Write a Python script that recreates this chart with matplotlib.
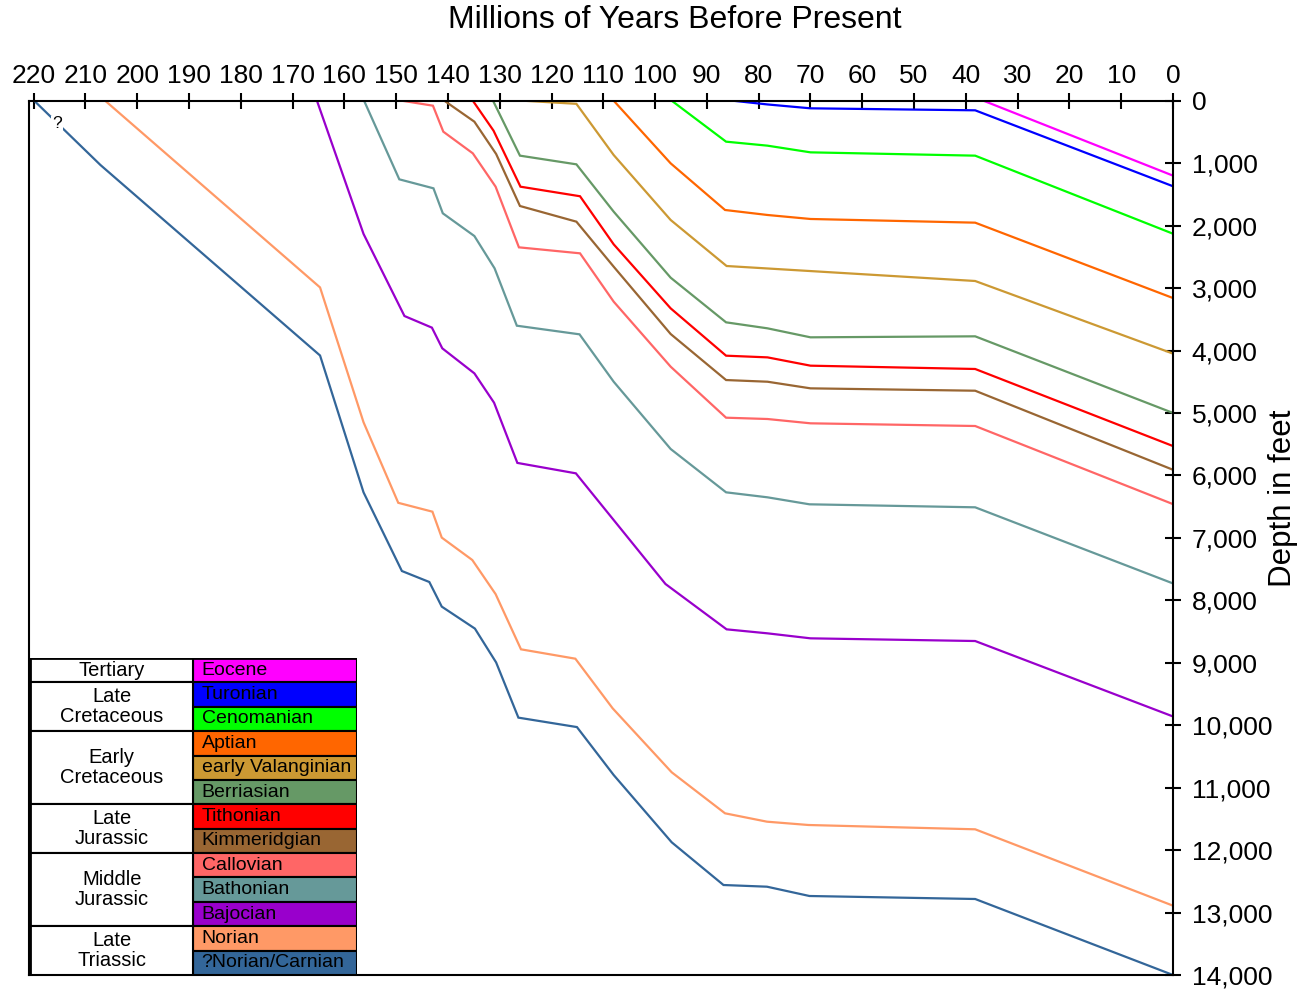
import matplotlib
matplotlib.use("Agg")
import matplotlib.pyplot as plt
from matplotlib.patches import Rectangle
from matplotlib.ticker import FuncFormatter

plt.rcParams['font.family'] = ['Liberation Sans', 'DejaVu Sans']

# burial curves: age (Ma) and depth (feet) for each stage top
eocene_age = [36.6, 0]
eocene_depth = [0, 1200]
turonian_age = [85, 78.3, 70, 38.2, 0]
turonian_depth = [0, 60, 122, 154, 1370]
cenomanian_age = [96.8, 86.3, 78.3, 70, 38.2, 0]
cenomanian_depth = [0, 656, 720, 827, 880, 2130]
aptian_age = [108, 97, 86.5, 78.3, 70, 38.2, 0]
aptian_depth = [0, 1003, 1750, 1830, 1894, 1953, 3160]
valanginian_age = [125.5, 115.2, 108, 97, 86.2, 38.2, 0]
valanginian_depth = [0, 50, 870, 1910, 2647, 2887, 4050]
berriasian_age = [131.3, 126.1, 115.2, 108, 97, 86.3, 78.3, 70, 38.2, 0]
berriasian_depth = [0, 880, 1019, 1777, 2834, 3549, 3645, 3789, 3773, 5000]
tithonian_age = [135.2, 131.2, 126, 114.5, 108, 97, 86.3, 78.3, 70, 38.2, 0]
tithonian_depth = [0, 480, 1377, 1530, 2300, 3325, 4083, 4110, 4243, 4296, 5530]
kimmeridgian_age = [140.7, 134.9, 130.7, 126.1, 115.2, 108, 97, 86.3, 78.3, 70, 38.2, 0]
kimmeridgian_depth = [0, 336, 853, 1686, 1937, 2658, 3736, 4473, 4500, 4606, 4644, 5910]
callovian_age = [148.9, 142.9, 140.9, 135.2, 130.8, 126.3, 114.5, 108, 97, 86.3, 78.3, 70, 38.2, 0]
callovian_depth = [0, 80, 496, 843, 1377, 2348, 2444, 3218, 4259, 5076, 5097, 5166, 5209, 6460]
bathonian_age = [156.2, 149.4, 142.8, 141, 134.9, 131, 126.7, 114.6, 108, 97, 86.3, 78.3, 70.2, 38.2, 0]
bathonian_depth = [0, 1259, 1403, 1803, 2167, 2684, 3603, 3741, 4500, 5577, 6271, 6351, 6463, 6511, 7730]
bajocian_age = [165.3, 156.3, 148.4, 143.1, 141.1, 134.9, 131.1, 126.6, 115.3, 98, 86.2, 78.3, 70, 38.2, 0]
bajocian_depth = [0, 2134, 3448, 3634, 3965, 4366, 4836, 5800, 5967, 7739, 8465, 8529, 8609, 8652, 9860]
norian_age = [206.2, 164.7, 156.3, 149.6, 143, 141.2, 135.3, 130.8, 125.9, 115.4, 108.2, 96.8, 86.5, 78.4, 70.4, 38.2, 0]
norian_depth = [0, 2990, 5150, 6439, 6581, 6996, 7355, 7901, 8785, 8935, 9730, 10754, 11411, 11545, 11598, 11667, 12890]
carnian_age = [219.9, 207.1, 164.7, 156.3, 148.9, 143.6, 141.2, 134.8, 130.7, 126.4, 115.1, 108, 96.8, 86.8, 78.4, 70.2, 38.2, 0]
carnian_depth = [0, 1030, 4080, 6272, 7531, 7707, 8101, 8453, 8995, 9879, 10030, 10798, 11875, 12559, 12586, 12735, 12783, 14000]

stages = ['Eocene', 'Turonian', 'Cenomanian', 'Aptian', 'early Valanginian',
          'Berriasian', 'Tithonian', 'Kimmeridgian', 'Callovian', 'Bathonian',
          'Bajocian', 'Norian', '?Norian/Carnian']
colors = ['#FF00FF', '#0000FF', '#00FF00', '#FF6600', '#CC9933', '#669966',
          '#FF0000', '#996633', '#FF6666', '#669999', '#9900CC', '#FF9966', '#336699']
groups = ['Tertiary', 'Late\nCretaceous', 'Early\nCretaceous', 'Late\nJurassic',
          'Middle\nJurassic', 'Late\nTriassic']
group_rows = [1, 2, 3, 2, 3, 2]

curves = [(eocene_age, eocene_depth), (turonian_age, turonian_depth),
          (cenomanian_age, cenomanian_depth), (aptian_age, aptian_depth),
          (valanginian_age, valanginian_depth), (berriasian_age, berriasian_depth),
          (tithonian_age, tithonian_depth), (kimmeridgian_age, kimmeridgian_depth),
          (callovian_age, callovian_depth), (bathonian_age, bathonian_depth),
          (bajocian_age, bajocian_depth), (norian_age, norian_depth),
          (carnian_age, carnian_depth)]

W, H = 1315, 990
fig = plt.figure(figsize=(W / 100, H / 100), dpi=100)
ax = fig.add_axes([29 / W, 1 - 975 / H, (1173 - 29) / W, (975 - 100.7) / H])

for (a, d), c in zip(curves, colors):
    ax.plot(a, d, color=c, lw=1.6, solid_joinstyle='miter', zorder=2)

ax.text(215.5, 370, '?', fontsize=12.5, ha='center', va='center', zorder=3,
        bbox=dict(facecolor='white', edgecolor='none', pad=0.5))

ax.set_xlim(220.9, 0)
ax.set_ylim(14000, 0)
ax.set_xticks(range(220, -1, -10))
ax.set_yticks(range(0, 14001, 1000))
ax.yaxis.set_major_formatter(FuncFormatter(lambda v, p: f'{int(v):,}'))
ax.tick_params(axis='x', top=True, labeltop=True, bottom=False, labelbottom=False,
               direction='inout', length=11, width=1.5, labelsize=19, pad=4)
ax.tick_params(axis='y', right=True, labelright=True, left=False, labelleft=False,
               direction='inout', length=11, width=1.5, labelsize=19, pad=8)
for s in ax.spines.values():
    s.set_linewidth(1.5)

fig.text(675 / W, 1 - 20 / H, 'Millions of Years Before Present', fontsize=23,
         ha='center', va='center')
fig.text(1283 / W, 1 - 498 / H, 'Depth in feet', fontsize=22.5, rotation=90,
         ha='center', va='center')

# legend table
lax = fig.add_axes([30 / W, 1 - 975 / H, (357 - 30) / W, (975 - 658) / H])
lax.set_xlim(0, 2)
lax.set_ylim(len(stages), 0)
lax.axis('off')
lax.add_patch(Rectangle((0, 0), 2, len(stages), facecolor='white', edgecolor='none'))
for i, (name, c) in enumerate(zip(stages, colors)):
    lax.add_patch(Rectangle((1, i), 1, 1, facecolor=c, edgecolor='black', lw=1.5))
    lax.text(1.05, i + 0.5, name, fontsize=14, ha='left', va='center')
row = 0
for g, n in zip(groups, group_rows):
    lax.add_patch(Rectangle((0, row), 1, n, facecolor='white', edgecolor='black', lw=1.5))
    lax.text(0.5, row + n / 2, g, fontsize=14.5, ha='center', va='center', linespacing=1.05)
    row += n
lax.add_patch(Rectangle((0, 0), 2, len(stages), facecolor='none', edgecolor='black', lw=2))

fig.savefig('out.png', dpi=100)
